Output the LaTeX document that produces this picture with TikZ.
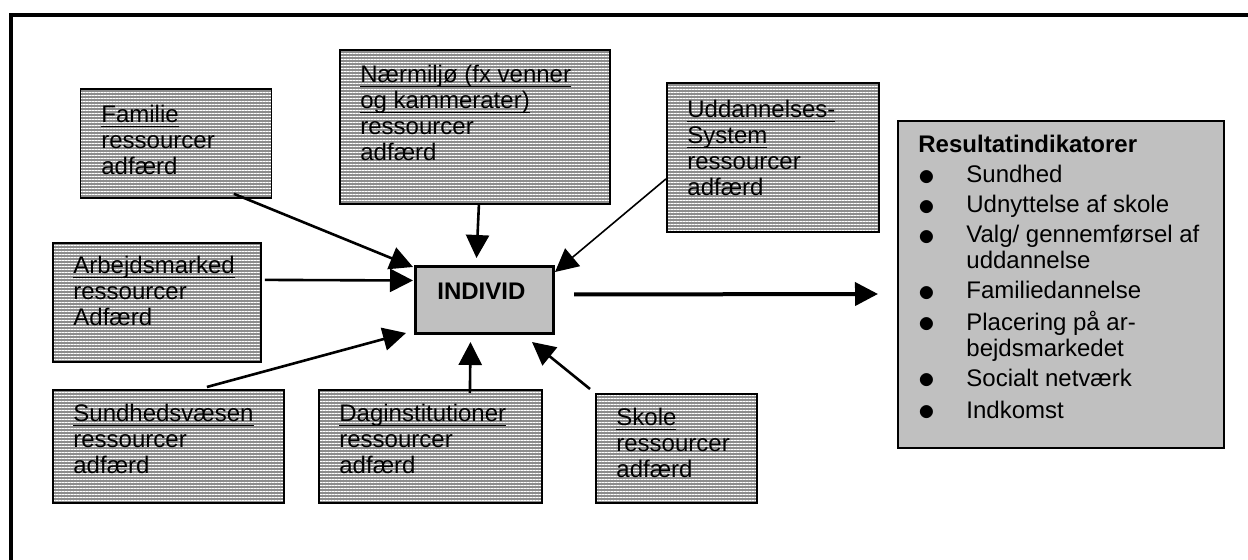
\documentclass[tikz,border=0pt]{standalone}
\usepackage{fontspec}
\setmainfont{Liberation Sans}
\usetikzlibrary{arrows.meta,calc,patterns.meta}
\definecolor{stripgray}{RGB}{140,140,140}
\definecolor{boxgray}{RGB}{192,192,192}
\newsavebox{\undlbox}
\newcommand{\undl}[1]{\sbox{\undlbox}{#1}\rlap{\rule[-1.9pt]{\wd\undlbox}{.6pt}}\usebox{\undlbox}}
\newcommand{\itm}[1]{\makebox[24pt][l]{\raisebox{-1.2pt}{\scalebox{1.4}{$\bullet$}}}#1}
\newcommand{\lines}[1]{\begin{tabular}[t]{@{}l@{}}#1\end{tabular}}
\begin{document}
\begin{tikzpicture}[x = .5pt, y = -.5pt]
		\tikzstyle{every node} = [font = \fontsize{12pt}{13pt}\selectfont]
		\tikzstyle{stripbox} = [draw, line width = .9pt, preaction = {fill = stripgray}, pattern = {Lines[angle = 0, distance = 1.5pt, line width = .4pt]}, pattern color = white, inner sep = 0pt, anchor = north west]
		\tikzstyle{greybox} = [draw, fill = boxgray, inner sep = 0pt, anchor = north west]
		\tikzstyle{boxtext} = [inner sep = 0pt, anchor = base west]
		\tikzstyle{arr} = [-{Triangle[length = 11.5pt, width = 11.5pt]}, line width = 1.3pt]

		\useasboundingbox (0,0) rectangle (1248,560);
		\draw [line width = 2pt] (1248,15) -- (11,15) -- (11,560); %frame, cut at right and bottom

		%striped boxes
		\node [stripbox, minimum width = 95.5pt, minimum height = 54.5pt] (fam) at (80,89) {};
		\node [stripbox, minimum width = 135pt, minimum height = 77pt] (naer) at (339,49) {};
		\node [stripbox, minimum width = 106pt, minimum height = 74.5pt] (udd) at (666,82) {};
		\node [stripbox, minimum width = 104pt, minimum height = 59.5pt] (arb) at (52,242) {};
		\node [stripbox, minimum width = 115.5pt, minimum height = 56.5pt] (sund) at (52,389) {};
		\node [stripbox, minimum width = 111.5pt, minimum height = 56.5pt] (dag) at (318,389) {};
		\node [stripbox, minimum width = 80.5pt, minimum height = 54.5pt] (skole) at (595,393) {};

		%grey boxes
		\node [greybox, line width = 1.5pt, minimum width = 69pt, minimum height = 33.5pt] (ind) at (414,265) {};
		\node [greybox, line width = 1pt, minimum width = 163pt, minimum height = 163.5pt] (res) at (897,120) {};

		%texts
		\node [boxtext] (famtxt) at ($(fam.north west)+(21,34)$) {\lines{\undl{Familie}\\ressourcer\\adfærd}};
		\node [boxtext] (naertxt) at ($(naer.north west)+(21,34)$) {\lines{\undl{Nærmiljø (fx venner}\\\undl{og kammerater)}\\ressourcer\\adfærd}};
		\node [boxtext] (uddtxt) at ($(udd.north west)+(21,36)$) {\lines{\undl{Uddannelses-}\\\undl{System}\\ressourcer\\adfærd}};
		\node [boxtext] (arbtxt) at ($(arb.north west)+(21,32)$) {\lines{\undl{Arbejdsmarked}\\ressourcer\\Adfærd}};
		\node [boxtext] (sundtxt) at ($(sund.north west)+(21,33)$) {\lines{\undl{Sundhedsvæsen}\\ressourcer\\adfærd}};
		\node [boxtext] (dagtxt) at ($(dag.north west)+(21,33)$) {\lines{\undl{Daginstitutioner}\\ressourcer\\adfærd}};
		\node [boxtext] (skoletxt) at ($(skole.north west)+(21,33)$) {\lines{\undl{Skole}\\ressourcer\\adfærd}};
		\node [boxtext] (indtxt) at ($(ind.north west)+(23,35)$) {\textbf{INDIVID}};
		\node [boxtext] (restxt) at ($(res.north west)+(21,33)$) {\lines{\textbf{Resultatindikatorer}\\[2pt]
			\itm{Sundhed}\\[2pt]
			\itm{Udnyttelse af skole}\\[2pt]
			\itm{Valg/ gennemførsel af}\\
			\hspace*{24pt}uddannelse\\[2pt]
			\itm{Familiedannelse}\\[2pt]
			\itm{Placering på ar-}\\
			\hspace*{24pt}bejdsmarkedet\\[2pt]
			\itm{Socialt netværk}\\[3pt]
			\itm{Indkomst}}};

		%arrows into INDIVID
		\draw [arr] ($(fam.south east)+(-38,-5)$) -- ($(ind.north west)+(-1,2)$);
		\draw [arr] ($(naer.south)+(4,0)$) -- ($(ind.north)+(-8,-7)$);
		\draw [arr, line width = .8pt] ($(udd.west)+(0,21.5)$) -- ($(ind.north east)+(0,7)$);
		\draw [arr] ($(arb.east)+(3,-22.5)$) -- ($(ind.west)+(-1,-19.5)$);
		\draw [arr] ($(sund.north)+(38.5,-2)$) -- ($(ind.south west)+(-8,-2)$);
		\draw [arr] ($(dag.north)+(39.5,4)$) -- ($(ind.south)+(-14,7)$);
		\draw [arr] ($(skole.north west)+(-5,-4)$) -- ($(ind.south east)+(-23,7)$);
		%INDIVID to results
		\draw [arr, line width = 2pt] ($(ind.east)+(19,-5.5)$) -- ($(res.west)+(-19,9.5)$);
\end{tikzpicture}
\end{document}
